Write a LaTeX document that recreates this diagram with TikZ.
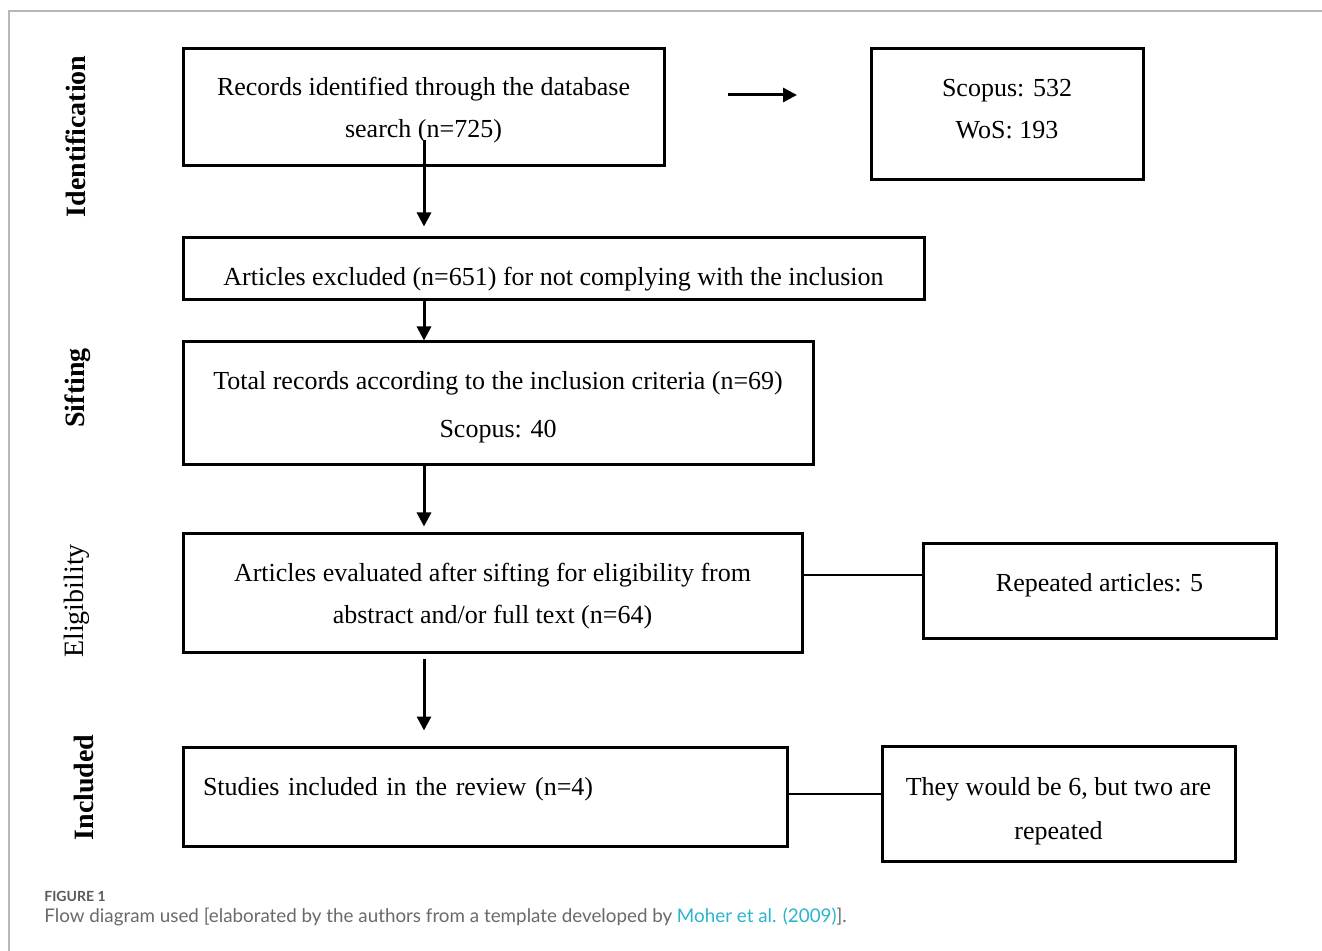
\documentclass[tikz,border=0pt]{standalone}
\usepackage{fontspec}
\setmainfont{Liberation Serif}
\newfontfamily\capfont{Lato}
\usetikzlibrary{arrows.meta}
\definecolor{framegray}{HTML}{B8B8B8}
\definecolor{capgray}{HTML}{6A6A6A}
\definecolor{figgray}{HTML}{5A5A5A}
\definecolor{linkcyan}{HTML}{2BB5CC}
\begin{document}
\begin{tikzpicture}[x=0.5pt,y=-0.5pt,
 box/.style={draw, line width=1.5pt, inner sep=0pt, align=center, font=\fontsize{13pt}{21pt}\selectfont},
 flowarrow/.style={line width=1.5pt, -{Triangle[length=7pt,width=7pt]}},
 sideline/.style={line width=1pt},
 stage/.style={rotate=90, anchor=base, inner sep=0pt, font=\fontsize{14pt}{16pt}\selectfont},
 capstyle/.style={anchor=base west, inner sep=0pt, text=capgray, font=\capfont\fontsize{9.4pt}{11pt}\selectfont},
]
\fill[white] (0,0) rectangle (1322,951);
\useasboundingbox (0,0) rectangle (1322,951);
\draw[framegray, line width=0.75pt] (9,951) -- (9,11) -- (1322,11);

% stage labels
\node[stage] (sid) at (85,136.5) {\textbf{Identification}};
\node[stage] (ssi) at (84,388) {\textbf{Sifting}};
\node[stage] (sel) at (83,601) {Eligibility};
\node[stage] (sin) at (93,787.5) {\textbf{Included}};

% boxes
\node[box, minimum width=240.5pt, minimum height=58.5pt, text height=33.5pt, text depth=3pt] (b1) at (423.5,107.5)
  {Records identified through the database\\ search (n=725)};
\node[box, minimum width=136pt, minimum height=65.5pt, text height=27.5pt, text depth=3pt] (b2) at (1007,114.5)
  {Scopus: 532\\ WoS: 193};
\node[box, minimum width=370.5pt, minimum height=31pt, text height=18pt, text depth=1pt] (b3) at (553.5,269)
  {Articles excluded (n=651) for not complying with the inclusion};
\node[box, minimum width=315pt, minimum height=61.5pt, font=\fontsize{13pt}{24pt}\selectfont, text height=37.5pt, text depth=3pt] (b4) at (498,403.5)
  {Total records according to the inclusion criteria (n=69)\\ Scopus: 40};
\node[box, minimum width=309.5pt, minimum height=59pt, text height=34pt, text depth=3pt] (b5) at (492.5,593)
  {Articles evaluated after sifting for eligibility from\\ abstract and/or full text (n=64)};
\node[box, minimum width=176.5pt, minimum height=47pt, text height=9pt, text depth=9pt] (b6) at (1099.5,591)
  {Repeated articles: 5};
\node[box, minimum width=302pt, minimum height=49.5pt, align=left, text width=282pt, inner xsep=10pt, text height=9pt, text depth=10.5pt] (b7) at (485,796.5)
  {Studies included in the review (n=4)};
\node[box, minimum width=176.5pt, minimum height=57.5pt, font=\fontsize{13pt}{22pt}\selectfont, text height=38.5pt, text depth=3pt] (b8) at (1058.5,803.5)
  {They would be 6, but two are\\ repeated};

% connectors
\coordinate (a1s) at (424,140);
\coordinate (h1) at (728,95);
\coordinate (h2) at (797,95);
\coordinate (l1) at (0,575);
\coordinate (l2) at (0,794);
\draw[flowarrow] (h1) -- (h2);
\draw[flowarrow, shorten >=5pt] (a1s) -- (a1s |- b3.north);
\draw[flowarrow] (b3.south -| a1s) -- (b4.north -| a1s);
\draw[flowarrow, shorten >=3pt] (b4.south -| a1s) -- (b5.north -| a1s);
\draw[flowarrow, shorten <=2.5pt, shorten >=7.5pt] (b5.south -| a1s) -- (b7.north -| a1s);
\draw[sideline] (b5.east |- l1) -- (b6.west |- l1);
\draw[sideline] (b7.east |- l2) -- (b8.west |- l2);

% caption
\node[capstyle, text=figgray, font=\capfont\bfseries\fontsize{7pt}{8pt}\selectfont] (fig) at (44,901) {FIGURE 1};
\node[capstyle] (cap) at (44,922) {Flow diagram used [elaborated by the authors from a template developed by \textcolor{linkcyan}{Moher et al. (2009)}].};
\end{tikzpicture}
\end{document}
